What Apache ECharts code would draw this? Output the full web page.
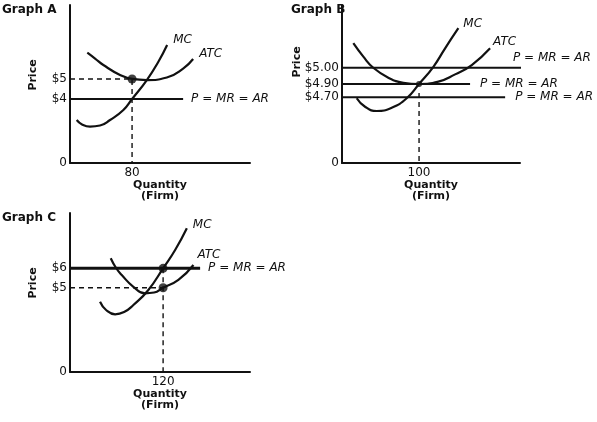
<!DOCTYPE html>
<html>
<head>
<meta charset="utf-8">
<script src="https://cdn.jsdelivr.net/npm/echarts@6/dist/echarts.min.js"></script>
<style>
  html, body { margin: 0; padding: 0; background: #fff; }
  #main { width: 597px; height: 422px; }
</style>
</head>
<body>
<div id="main"></div>
<script>
// the diagrams are not drawn to scale, so the price axis is a plain 0-100 height
// and the dollar labels sit on the heights
var graphTitles = ['Graph A', 'Graph B', 'Graph C'];

// Graph A
var qTickA = 80;
var priceLevelsA = [53.2, 40.5];
var priceLabelsA = ['$5', '$4'];
var mcA = [[8.6, 27.2], [15.5, 24.4], [25.8, 23], [38.7, 23.7], [51.6, 27.2], [68.8, 33.5],
    [80, 40.5], [99, 52.5], [113.9, 64.1], [125.2, 74.7]];
var atcA = [[22.3, 69.8], [32.3, 66.1], [43, 62], [64.5, 55.7], [80, 53.2], [99, 52.5],
    [124.8, 54.1], [146.2, 59.9], [158.7, 65.8]];
var priceLinesA = [[40.5, 145.8]];
var guidesA = [[[0, 53.2], [80, 53.2], [80, 0]]];
var dotsA = [[80, 53.2]];

// Graph B
var qTickB = 100;
var priceLevelsB = [60.3, 50, 41.6];
var priceLabelsB = ['$5.00', '$4.90', '$4.70'];
var mcB = [[19.1, 41], [29.9, 35.6], [45.1, 32.9], [64.5, 35], [84, 41], [100, 50],
    [118.6, 60.9], [133.8, 72.6], [151, 85.3]];
var atcB = [[14.7, 75.8], [27.7, 67.3], [40.6, 60.3], [60.1, 54], [79.6, 50.8], [100, 50],
    [125.1, 51.5], [146.8, 56.1], [168.4, 62], [192.2, 72.6]];
var priceLinesB = [[60.3, 241.6], [50, 166.2], [41.6, 211.7]];
var guidesB = [[[100, 44.3], [100, 0]]];
var dotsB = [[100, 50]];

// Graph C
var qTickC = 120;
var priceLevelsC = [65.2, 53];
var priceLabelsC = ['$6', '$5'];
var mcC = [[38.7, 44.2], [46.5, 39], [58.1, 36.3], [69.7, 37.7], [81.7, 42.1], [101, 51.6],
    [120, 65.2], [135.5, 76.7], [150.6, 90.4]];
var atcC = [[52.5, 71.5], [59.4, 65.4], [66.7, 61], [81.7, 53.6], [96.8, 49.5], [108.4, 50],
    [120, 53], [139.7, 57.9], [159.1, 67.3]];
var priceLinesC = [[65.2, 167.7]];
var guidesC = [[[0, 53], [120, 53]], [[120, 65.2], [120, 0]]];
var dotsC = [[120, 65.2], [120, 53]];

var FONT = 'DejaVu Sans';
var INK = '#111';

var layout = [
    {grid: {left: 70, top: 5, width: 180, height: 158}, qMax: 232, title: [2, 4], price: [33, 75],
     mcOff: [-2, -5], atcOff: [-2, -5], lineOff: [[0, 0]], lineW: 2, dot: 9},
    {grid: {left: 342, top: 5, width: 178, height: 158}, qMax: 231, title: [291, 4], price: [297, 62],
     mcOff: [-3, -4], atcOff: [-5, -6], lineOff: [[-16, -10], [2, 0], [2, 0]], lineW: 2, dot: 6},
    {grid: {left: 70, top: 213, width: 180, height: 159}, qMax: 232, title: [2, 212], price: [33, 283],
     mcOff: [-2, -3], atcOff: [-4, -10], lineOff: [[0, 0]], lineW: 3, dot: 9}
];

var graphs = [
    {qTick: qTickA, levels: priceLevelsA, labels: priceLabelsA, mc: mcA, atc: atcA, lines: priceLinesA, guides: guidesA, dots: dotsA},
    {qTick: qTickB, levels: priceLevelsB, labels: priceLabelsB, mc: mcB, atc: atcB, lines: priceLinesB, guides: guidesB, dots: dotsB},
    {qTick: qTickC, levels: priceLevelsC, labels: priceLabelsC, mc: mcC, atc: atcC, lines: priceLinesC, guides: guidesC, dots: dotsC}
];

var option = {
    backgroundColor: '#fff',
    animation: false,
    title: [],
    grid: [],
    xAxis: [],
    yAxis: [],
    graphic: [],
    series: []
};

var italic = {fontFamily: FONT, fontSize: 12, fontStyle: 'italic', color: INK};

graphs.forEach(function (g, i) {
    var lay = layout[i];
    option.title.push({
        text: graphTitles[i], left: lay.title[0], top: lay.title[1], padding: 0,
        textStyle: {fontFamily: FONT, fontSize: 12, fontWeight: 'bold', color: INK}
    });
    option.grid.push(lay.grid);
    option.xAxis.push({
        gridIndex: i, type: 'value', min: 0, max: lay.qMax,
        name: 'Quantity\n(Firm)', nameLocation: 'middle', nameGap: 17,
        nameTextStyle: {fontFamily: FONT, fontSize: 11, fontWeight: 'bold', color: INK, lineHeight: 11},
        axisLine: {lineStyle: {color: INK, width: 2}},
        axisTick: {show: false},
        splitLine: {show: false},
        axisLabel: {customValues: [g.qTick], margin: 4, fontFamily: FONT, fontSize: 12, color: INK}
    });
    option.yAxis.push({
        gridIndex: i, type: 'value', min: 0, max: 100,
        axisLine: {lineStyle: {color: INK, width: 2}},
        axisTick: {show: false},
        splitLine: {show: false},
        axisLabel: {
            customValues: [0].concat(g.levels), margin: 3,
            fontFamily: FONT, fontSize: 12, color: INK,
            formatter: function (v) {
                var k = g.levels.indexOf(v);
                return k < 0 ? '0' : g.labels[k];
            }
        }
    });
    option.graphic.push({
        type: 'text', x: lay.price[0], y: lay.price[1], rotation: Math.PI / 2,
        style: {text: 'Price', font: 'bold 11px ' + FONT, fill: INK, textAlign: 'center', textVerticalAlign: 'middle'}
    });

    // price lines P = MR = AR
    g.lines.forEach(function (l, k) {
        option.series.push({
            type: 'line', xAxisIndex: i, yAxisIndex: i, symbol: 'none', clip: false,
            data: [[0, l[0]], [l[1], l[0]]],
            lineStyle: {color: INK, width: lay.lineW},
            endLabel: Object.assign({show: true, formatter: 'P = MR = AR', offset: lay.lineOff[k]}, italic)
        });
    });
    // dashed guides
    g.guides.forEach(function (d) {
        option.series.push({
            type: 'line', xAxisIndex: i, yAxisIndex: i, symbol: 'none',
            data: d, lineStyle: {color: INK, width: 1.4, type: [5, 4]}
        });
    });
    // cost curves
    option.series.push({
        name: 'MC', type: 'line', xAxisIndex: i, yAxisIndex: i, symbol: 'none', smooth: 0.5,
        data: g.mc, lineStyle: {color: INK, width: 2.2},
        endLabel: Object.assign({show: true, formatter: 'MC', offset: lay.mcOff}, italic)
    });
    option.series.push({
        name: 'ATC', type: 'line', xAxisIndex: i, yAxisIndex: i, symbol: 'none', smooth: 0.5,
        data: g.atc, lineStyle: {color: INK, width: 2.2},
        endLabel: Object.assign({show: true, formatter: 'ATC', offset: lay.atcOff}, italic)
    });
    option.series.push({
        type: 'scatter', xAxisIndex: i, yAxisIndex: i, symbolSize: lay.dot,
        data: g.dots, itemStyle: {color: INK}
    });
});

var myChart = echarts.init(document.getElementById('main'));
myChart.setOption(option);
</script>
</body>
</html>
